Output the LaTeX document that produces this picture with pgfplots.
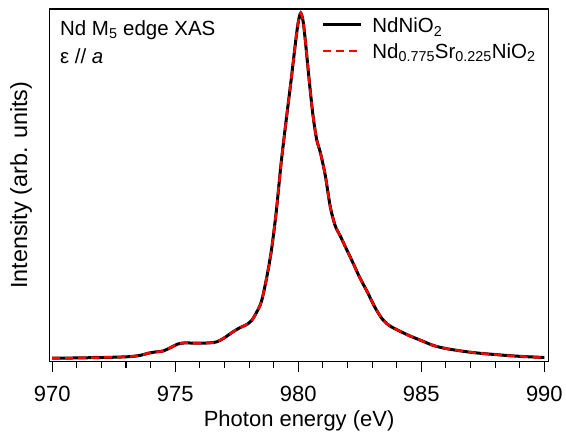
\documentclass[border=0pt]{standalone}
\usepackage{pgfplots}
\pgfplotsset{compat=1.18}
\usepackage{fontspec}
\setmainfont{Liberation Sans}
\pgfplotsset{mylegimg/.style={legend image code/.code={\draw[##1] (0pt,0pt) -- (38pt,0pt); \path (48pt,0pt);}}}
\begin{document}
\begin{tikzpicture}
\begin{axis}[
  name=ax,
  scale only axis,
  width=499pt, height=353pt,
  xmin=969.907, xmax=990.16,
  ymin=0, ymax=353,
  font=\fontsize{20.5}{24}\selectfont,
  /pgf/number format/assume math mode=true,
  xtick={970,975,980,985,990},
  minor x tick num=4,
  xtick pos=bottom,
  tick align=outside,
  major tick length=10pt,
  minor tick length=6pt,
  ytick=\empty,
  axis line style={line width=1.1pt},
  every tick/.style={line width=1.1pt, black},
  xticklabel style={font=\fontsize{22}{26}\selectfont, yshift=-11pt},
  xlabel={Photon energy (eV)},
  ylabel={Intensity (arb. units)},
  xlabel style={font=\fontsize{22}{26}\selectfont, at={(axis description cs:0.5,-0.1856)}, anchor=base},
  ylabel style={font=\fontsize{23.4}{28}\selectfont, at={(axis description cs:-0.046,0.5)}, anchor=base},
  clip=false,
  legend style={draw=none, fill=none, at={(axis description cs:0.545,0.9775)}, anchor=north west, inner sep=0pt, outer sep=0pt, row sep=10pt, column sep=0pt, nodes={inner sep=0pt, text height=16pt, text depth=0pt}},
  legend cell align=left,
]
\addplot[black, line width=3pt, smooth, mylegimg] coordinates {
(970.0,3.3) (970.5,3.4) (971.0,3.6) (971.5,3.8) (972.0,4.0) (972.5,4.3) (973.0,4.7) (973.3,5.2) (973.6,6.3) (973.9,8.3) (974.2,9.6) (974.5,10.5) (974.8,13.8) (975.1,17.5) (975.4,18.7) (975.7,18.4) (976.0,18.4) (976.4,18.7) (976.7,19.8) (977.0,23.8) (977.3,29) (977.6,33.5) (977.9,37) (978.1,41) (978.3,49) (978.5,60) (978.7,82) (978.9,110) (979.1,149) (979.3,198) (979.5,240) (979.7,280) (979.9,322) (980.0,340) (980.1,349) (980.2,340) (980.3,318) (980.45,280) (980.6,246) (980.75,222) (980.9,209) (981.1,186) (981.3,155) (981.5,136) (981.7,126) (981.95,113) (982.2,100) (982.5,84) (982.8,70) (983.1,55) (983.4,43) (983.7,36) (984.0,32) (984.5,26) (985.0,21) (985.5,16) (986.0,13) (986.5,11) (987.0,9.3) (987.5,8) (988.0,7) (988.5,6) (989.0,5.2) (989.5,4.6) (990.0,4.0)
};
\addlegendentry{NdNiO\textsubscript{2}}
\addplot[red, line width=2.5pt, dash pattern=on 8pt off 5pt, smooth, mylegimg] coordinates {
(970.0,3.3) (970.5,3.4) (971.0,3.6) (971.5,3.8) (972.0,4.0) (972.5,4.3) (973.0,4.7) (973.3,5.2) (973.6,6.3) (973.9,8.3) (974.2,9.6) (974.5,10.5) (974.8,13.8) (975.1,17.5) (975.4,18.7) (975.7,18.4) (976.0,18.4) (976.4,18.7) (976.7,19.8) (977.0,23.8) (977.3,29) (977.6,33.5) (977.9,37) (978.1,41) (978.3,49) (978.5,60) (978.7,82) (978.9,110) (979.1,149) (979.3,198) (979.5,240) (979.7,280) (979.9,322) (980.0,340) (980.1,349) (980.2,340) (980.3,318) (980.45,280) (980.6,246) (980.75,222) (980.9,209) (981.1,186) (981.3,155) (981.5,136) (981.7,126) (981.95,113) (982.2,100) (982.5,84) (982.8,70) (983.1,55) (983.4,43) (983.7,36) (984.0,32) (984.5,26) (985.0,21) (985.5,16) (986.0,13) (986.5,11) (987.0,9.3) (987.5,8) (988.0,7) (988.5,6) (989.0,5.2) (989.5,4.6) (990.0,4.0)
};
\addlegendentry{Nd\textsubscript{0.775}Sr\textsubscript{0.225}NiO\textsubscript{2}}
\node[anchor=base west, inner sep=0pt] at (axis description cs:0.02,0.926) {Nd M\textsubscript{5} edge XAS};
\node[anchor=base west, inner sep=0pt] at (axis description cs:0.02,0.844) {ε // \textit{a}};
\end{axis}
\path ([xshift=-50pt,yshift=-72pt]ax.south west) rectangle ([xshift=17pt,yshift=9pt]ax.north east);
\end{tikzpicture}
\end{document}
